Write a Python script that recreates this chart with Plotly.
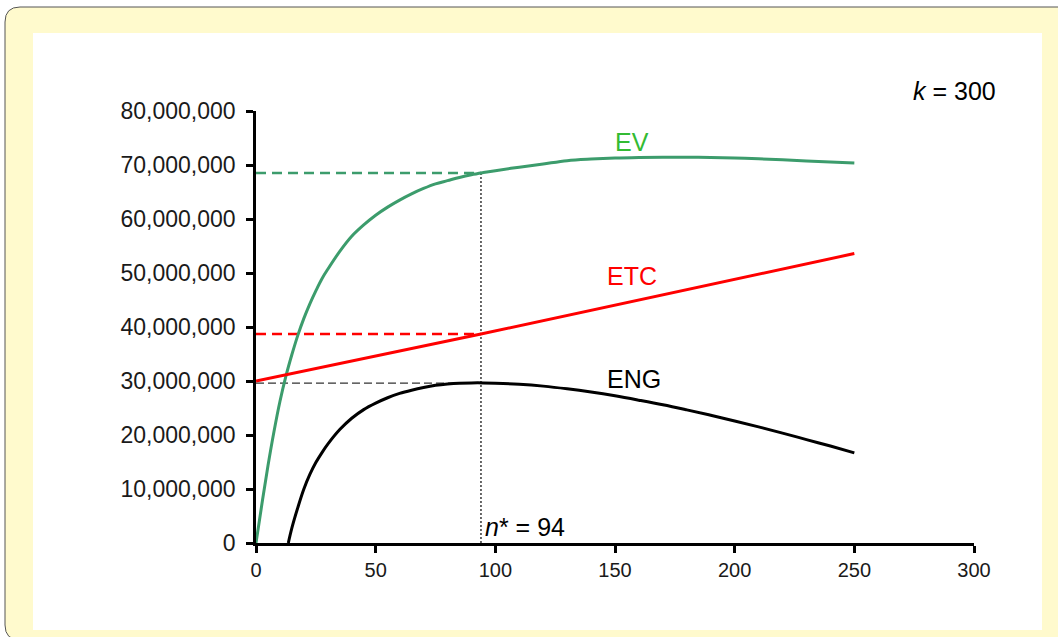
import plotly.graph_objects as go

# ---- data ----
n_ev = [0, 2.5, 5, 7.5, 10, 12.5, 15, 17.5, 20, 22.5, 25, 27.5, 30, 35, 40, 45, 50, 55, 60,
        65, 70, 75, 80, 85, 90, 95, 100, 110, 120, 130, 140, 150, 160, 170, 180, 190, 200,
        210, 220, 230, 240, 250]
ev = [0, 7.3e6, 14.3e6, 20.6e6, 26.2e6, 30.9e6, 34.9e6, 38.5e6, 41.6e6, 44.3e6, 46.7e6,
      48.9e6, 50.7e6, 54.0e6, 56.8e6, 58.9e6, 60.7e6, 62.2e6, 63.5e6, 64.65e6, 65.65e6,
      66.5e6, 67.1e6, 67.7e6, 68.2e6, 68.6e6, 68.95e6, 69.6e6, 70.2e6, 70.8e6, 71.1e6,
      71.3e6, 71.4e6, 71.45e6, 71.45e6, 71.4e6, 71.3e6, 71.15e6, 70.95e6, 70.75e6,
      70.55e6, 70.35e6]

n_etc = [0, 94, 250]
etc = [30.0e6, 38.7e6, 53.6e6]

n_eng = [13.5, 15, 17.5, 20, 22.5, 25, 27.5, 30, 35, 40, 45, 50, 55, 60, 65, 70, 75, 80,
         85, 90, 95, 100, 110, 120, 130, 140, 150, 160, 170, 180, 190, 200, 210, 220, 230,
         240, 250]
eng = [0, 2.8e6, 6.6e6, 10.0e6, 12.7e6, 14.9e6, 16.7e6, 18.3e6, 21.0e6, 23.1e6, 24.7e6,
       25.9e6, 26.9e6, 27.7e6, 28.3e6, 28.8e6, 29.2e6, 29.45e6, 29.6e6, 29.65e6, 29.65e6,
       29.6e6, 29.4e6, 29.05e6, 28.55e6, 27.95e6, 27.25e6, 26.45e6, 25.6e6, 24.65e6,
       23.65e6, 22.6e6, 21.5e6, 20.35e6, 19.15e6, 17.95e6, 16.7e6]

n_star = 94
ev_star = 68.5e6
etc_star = 38.7e6
eng_star = 29.6e6

x_ticks = [0, 50, 100, 150, 200, 250, 300]
y_ticks = [0, 10e6, 20e6, 30e6, 40e6, 50e6, 60e6, 70e6, 80e6]

# ---- styling ----
FONT = "Liberation Sans, Arial, sans-serif"
GREEN = "#3C9C6C"
GREEN_LBL = "#33BB33"
RED = "#FF0000"
YELLOW = "#FFFACD"

W, H = 1058, 637
L, R, T, B = 256, 974, 111, 543


def px(x):
    return (x - L) / (R - L)


def py(y):
    return (B - y) / (B - T)


fig = go.Figure()

# reference dashed/dotted guides
fig.add_trace(go.Scatter(x=[0, n_star], y=[ev_star, ev_star], mode="lines",
                         line=dict(color=GREEN, width=2.5, dash="10px,6px"), hoverinfo="skip"))
fig.add_trace(go.Scatter(x=[0, n_star], y=[etc_star, etc_star], mode="lines",
                         line=dict(color=RED, width=2.5, dash="10px,6px"), hoverinfo="skip"))
fig.add_trace(go.Scatter(x=[0, n_star], y=[eng_star, eng_star], mode="lines",
                         line=dict(color="#333333", width=1.3, dash="8px,4px"), hoverinfo="skip"))
fig.add_trace(go.Scatter(x=[n_star, n_star], y=[0, ev_star], mode="lines",
                         line=dict(color="#444444", width=1.6, dash="2px,2px"), hoverinfo="skip"))

# main curves
fig.add_trace(go.Scatter(x=n_ev, y=ev, mode="lines", name="EV",
                         line=dict(color=GREEN, width=3, shape="spline", smoothing=1)))
fig.add_trace(go.Scatter(x=n_etc, y=etc, mode="lines", name="ETC",
                         line=dict(color=RED, width=3)))
fig.add_trace(go.Scatter(x=n_eng, y=eng, mode="lines", name="ENG",
                         line=dict(color="black", width=3, shape="spline", smoothing=1)))

# background frame
frame = (f"M {px(1070)},{py(7)} L {px(20)},{py(7)} Q {px(5)},{py(7)} {px(5)},{py(22)} "
         f"L {px(5)},{py(625)} Q {px(5)},{py(640)} {px(20)},{py(640)} L {px(1070)},{py(640)} Z")
shapes = [
    dict(type="path", xref="paper", yref="paper", path=frame, fillcolor=YELLOW,
         line=dict(color="#555555", width=1), layer="below"),
    dict(type="rect", xref="paper", yref="paper", x0=px(33), x1=px(1042), y0=py(33), y1=py(630),
         fillcolor="white", line=dict(width=0), layer="below"),
]

annotations = [
    dict(x=157, y=74.3e6, text="EV", showarrow=False, font=dict(family=FONT, size=25, color=GREEN_LBL)),
    dict(x=157, y=49.5e6, text="ETC", showarrow=False, font=dict(family=FONT, size=25, color=RED)),
    dict(x=158, y=30.3e6, text="ENG", showarrow=False, font=dict(family=FONT, size=25, color="black")),
    dict(x=95, y=3.0e6, text="<i>n</i>* = 94", showarrow=False, xanchor="left",
         font=dict(family=FONT, size=25, color="black")),
    dict(xref="paper", yref="paper", x=px(998), y=py(75), text="<i>k</i> = 300", showarrow=False,
         xanchor="right", font=dict(family=FONT, size=25, color="black")),
]

fig.update_layout(
    width=W, height=H,
    margin=dict(l=L, r=W - R, t=T, b=H - B, pad=0),
    paper_bgcolor="white",
    plot_bgcolor="rgba(0,0,0,0)",
    showlegend=False,
    shapes=shapes,
    annotations=annotations,
    font=dict(family=FONT, size=21, color="#1a1a1a"),
    xaxis=dict(range=[0, 300], tickvals=x_ticks, ticktext=[str(v) for v in x_ticks],
               showgrid=False, zeroline=False, showline=True, linecolor="black", linewidth=2.5,
               ticks="outside", ticklen=7, tickwidth=2.5, tickcolor="black",
               tickfont=dict(family=FONT, size=20, color="#1a1a1a")),
    yaxis=dict(range=[0, 80e6], tickvals=y_ticks, tickformat=",d",
               showgrid=False, zeroline=False, showline=True, linecolor="black", linewidth=2.5,
               ticks="outside", ticklen=7, tickwidth=2.5, tickcolor="black",
               ticklabelstandoff=6,
               tickfont=dict(family=FONT, size=23, color="#1a1a1a")),
)

fig.write_html("out.html", config={"displayModeBar": False},
               post_script="document.body.style.margin='0px';document.body.style.overflow='hidden';")
